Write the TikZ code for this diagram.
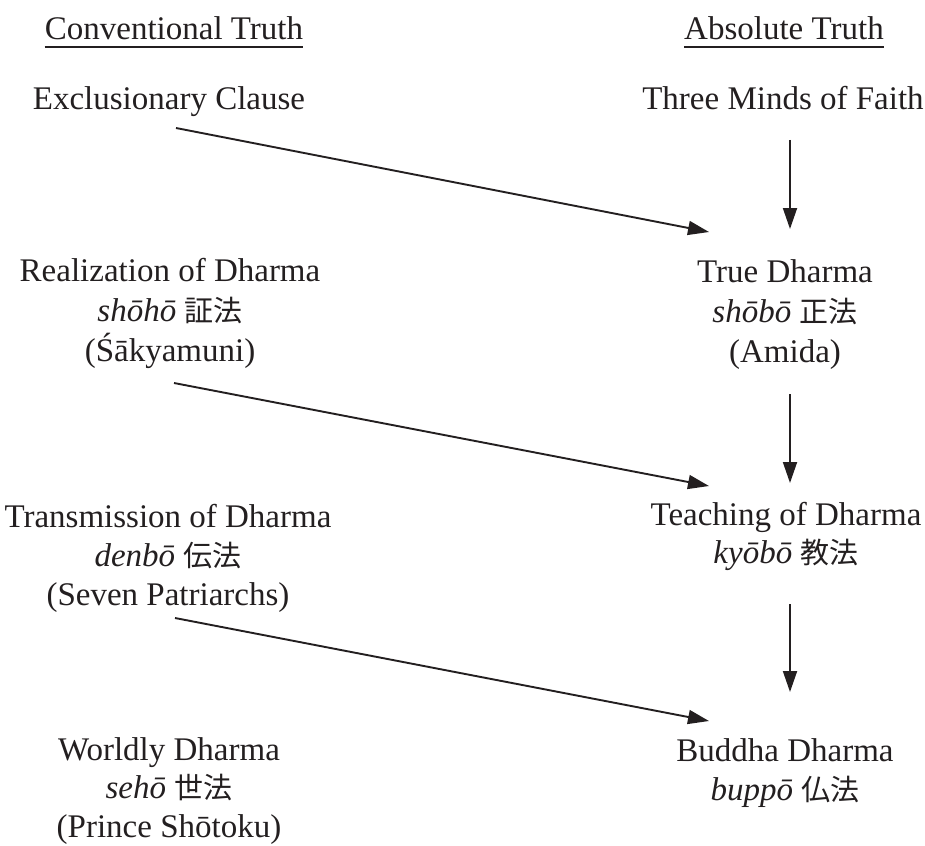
\documentclass[tikz,border=0pt]{standalone}
\usepackage{fontspec}
\setmainfont{Liberation Serif}
\newfontfamily\jpfont{Noto Sans CJK JP}
\usetikzlibrary{arrows.meta}
\definecolor{ink}{HTML}{231F20}
\newcommand{\kanji}[1]{{\jpfont\fontsize{29}{40}\selectfont #1}}
\begin{document}
\begin{tikzpicture}[x=1pt,y=1pt,
  txt/.style={anchor=base, inner sep=0pt, text=ink, font=\fontsize{33}{40}\selectfont},
  arr/.style={-{Triangle[length=21pt,width=14pt]}, line width=1.9pt, draw=ink},
  uline/.style={line width=1.1pt, draw=ink}]
\useasboundingbox (0,0) rectangle (925,-845);
% headings
\node[txt] (conv) at (174,-40) {Conventional Truth};
\node[txt] (abs) at (784,-40) {Absolute Truth};
\draw[uline] ([yshift=-7pt]conv.base west) -- ([yshift=-7pt]conv.base east);
\draw[uline] ([yshift=-7pt]abs.base west) -- ([yshift=-7pt]abs.base east);
% left column
\node[txt] (excl) at (169,-110) {Exclusionary Clause};
\node[txt] (real) at (170,-281) {Realization of Dharma};
\node[txt] (realr) at (170,-321) {\textit{shōhō} \kanji{証法}};
\node[txt] (realp) at (170,-361) {(Śākyamuni)};
\node[txt] (trans) at (168,-527) {Transmission of Dharma};
\node[txt] (transr) at (168,-566) {\textit{denbō} \kanji{伝法}};
\node[txt] (transp) at (168,-605) {(Seven Patriarchs)};
\node[txt] (world) at (169,-760) {Worldly Dharma};
\node[txt] (worldr) at (169,-798) {\textit{sehō} \kanji{世法}};
\node[txt] (worldp) at (169,-837) {(Prince Shōtoku)};
% right column
\node[txt] (three) at (783,-110) {Three Minds of Faith};
\node[txt] (true) at (785,-282) {True Dharma};
\node[txt] (truer) at (785,-322) {\textit{shōbō} \kanji{正法}};
\node[txt] (truep) at (785,-362) {(Amida)};
\node[txt] (teach) at (786,-525) {Teaching of Dharma};
\node[txt] (teachr) at (786,-563) {\textit{kyōbō} \kanji{教法}};
\node[txt] (budd) at (785,-761) {Buddha Dharma};
\node[txt] (buddr) at (785,-800) {\textit{buppō} \kanji{仏法}};
% connector ends
\coordinate (d1s) at (176,-128);
\coordinate (d1e) at (709,-232);
\coordinate (d2s) at (174,-383);
\coordinate (d2e) at (709,-486);
\coordinate (d3s) at (175,-618);
\coordinate (d3e) at (709,-721);
\coordinate (v1s) at (790,-140);
\coordinate (v1e) at (790,-229);
\coordinate (v2s) at (790,-394);
\coordinate (v2e) at (790,-483);
\coordinate (v3s) at (790,-604);
\coordinate (v3e) at (790,-692);
\draw[arr] (d1s) -- (d1e);
\draw[arr] (d2s) -- (d2e);
\draw[arr] (d3s) -- (d3e);
\draw[arr] (v1s) -- (v1e);
\draw[arr] (v2s) -- (v2e);
\draw[arr] (v3s) -- (v3e);
\end{tikzpicture}
\end{document}
